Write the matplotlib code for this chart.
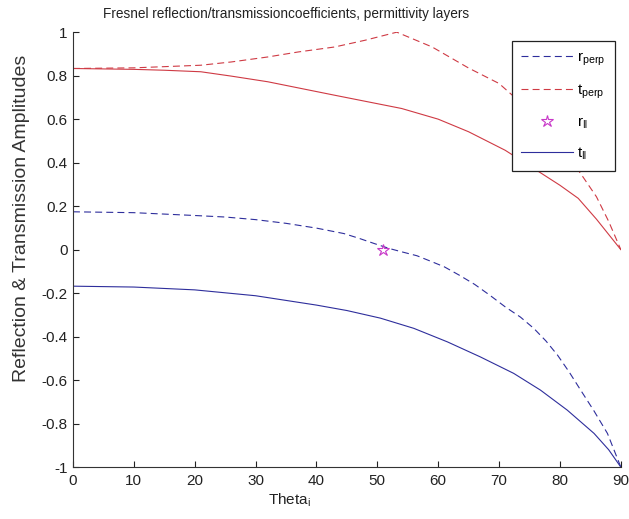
import matplotlib
matplotlib.use("Agg")
import matplotlib.pyplot as plt
from matplotlib.ticker import FuncFormatter

plt.rcParams['font.family'] = ['Liberation Sans', 'DejaVu Sans']
plt.rcParams['mathtext.default'] = 'regular'
plt.rcParams['axes.unicode_minus'] = False
plt.rcParams['lines.scale_dashes'] = False

# values
theta_r_perp = [0, 10, 20, 25, 30, 35, 40, 44.5, 47, 49.5, 52, 54, 56.5, 59, 61, 63.5, 66, 68.5, 71,
                73.5, 75.7, 77.7, 79.6, 81.5, 83.4, 85.6, 87.8, 90]
r_perp = [0.174, 0.17, 0.157, 0.15, 0.138, 0.121, 0.099, 0.074, 0.052, 0.028, 0.005, -0.01, -0.028,
          -0.056, -0.079, -0.118, -0.16, -0.21, -0.263, -0.31, -0.362, -0.42, -0.485, -0.562, -0.646,
          -0.742, -0.845, -1.0]

theta_t_perp = [0, 10, 21, 26, 32, 37, 43, 48, 53.2, 59, 65, 70, 75, 80, 83.4, 86, 88, 90]
t_perp = [0.833, 0.836, 0.848, 0.863, 0.886, 0.909, 0.932, 0.963, 1.0, 0.932, 0.835, 0.764, 0.64, 0.48,
          0.35, 0.243, 0.13, 0.0]

theta_r_par = [51]
r_par = [0]

theta_t_par_blue = [0, 10, 20, 30, 40, 45, 50.5, 56, 61.5, 66.9, 72.4, 76.8, 81.2, 85.6, 88, 90]
t_par_blue = [-0.168, -0.172, -0.185, -0.212, -0.255, -0.28, -0.315, -0.362, -0.424, -0.493, -0.569,
              -0.646, -0.738, -0.845, -0.92, -1.0]

theta_t_par_red = [0, 10, 15, 21, 26, 32, 43, 54, 60, 65, 71, 77, 80, 83, 86, 90]
t_par_red = [0.833, 0.829, 0.825, 0.818, 0.798, 0.772, 0.71, 0.649, 0.6, 0.542, 0.457, 0.35, 0.296,
             0.236, 0.14, 0.0]

x_ticks = [0, 10, 20, 30, 40, 50, 60, 70, 80, 90]
y_ticks = [-1, -0.8, -0.6, -0.4, -0.2, 0, 0.2, 0.4, 0.6, 0.8, 1]

blue = '#2e2e9c'
red = '#cf3a44'
magenta = '#c838c8'

fig = plt.figure(figsize=(6.29, 5.19), dpi=100)
ax = fig.add_axes([0.116, 0.100, 0.871, 0.838])

h1, = ax.plot(theta_r_perp, r_perp, color=blue, lw=0.8, linestyle=(0, (5, 3)))
h2, = ax.plot(theta_t_perp, t_perp, color=red, lw=0.8, linestyle=(0, (5, 3)))
h3, = ax.plot(theta_r_par, r_par, linestyle='none', marker='*', markersize=9,
              markerfacecolor='none', markeredgecolor=magenta, markeredgewidth=0.8)
h4, = ax.plot(theta_t_par_blue, t_par_blue, color=blue, lw=0.8)
ax.plot(theta_t_par_red, t_par_red, color=red, lw=0.8)

ax.set_xlim(0, 90)
ax.set_ylim(-1, 1)
ax.set_xticks(x_ticks)
ax.set_yticks(y_ticks)
ax.yaxis.set_major_formatter(FuncFormatter(lambda v, p: '%g' % round(v, 2)))
ax.tick_params(direction='in', length=4, width=0.8, labelsize=11, colors='#222222', pad=4)
ax.tick_params(axis='x', pad=5)
for side in ['top', 'right']:
    ax.spines[side].set_visible(False)
for side in ['left', 'bottom']:
    ax.spines[side].set_linewidth(0.8)
    ax.spines[side].set_color('#333333')

ax.set_xlabel('Theta$_i$', fontsize=11, color='#222222')
ax.xaxis.set_label_coords(0.396, -0.056)
ax.set_ylabel('Reflection & Transmission Amplitudes', fontsize=14, color='#333333')
ax.yaxis.set_label_coords(-0.078, 0.572)
ax.text(0.389, 1.041, 'Fresnel reflection/transmissioncoefficients, permittivity layers',
        transform=ax.transAxes, ha='center', va='center', fontsize=9.8, color='#222222')

leg = ax.legend([h1, h2, h3, h4],
                ['r$_{perp}$', 't$_{perp}$', 'r$_{\\Vert}$', 't$_{\\Vert}$'],
                loc='upper right', bbox_to_anchor=(0.989, 0.979), borderaxespad=0,
                fontsize=11, handlelength=3.4, labelspacing=0.95, handletextpad=0.3,
                borderpad=0.6, fancybox=False, framealpha=1, edgecolor='#222222')
leg.get_frame().set_linewidth(0.9)

fig.savefig('out.png', dpi=100)
